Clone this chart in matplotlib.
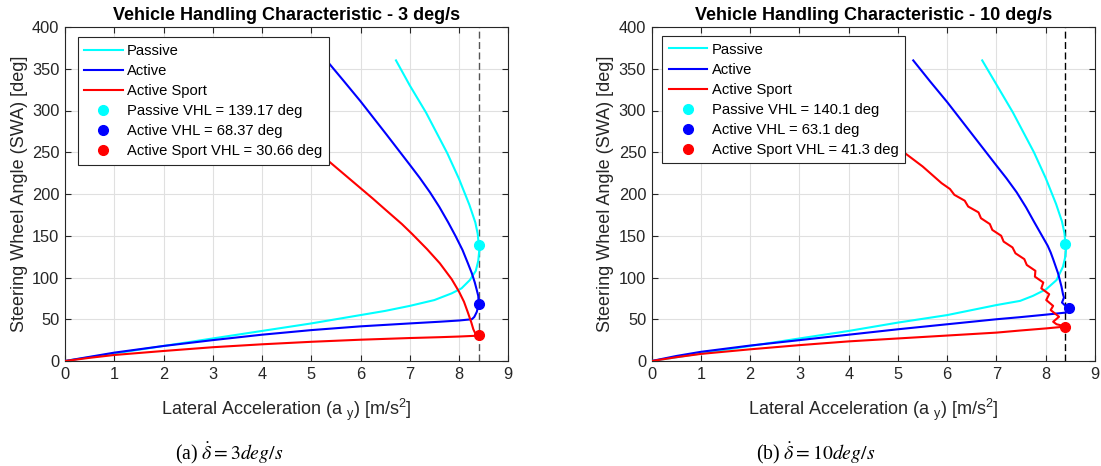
import matplotlib
matplotlib.use('Agg')
import matplotlib.pyplot as plt

plt.rcParams['font.family'] = ['Liberation Sans', 'DejaVu Sans']
plt.rcParams['mathtext.fontset'] = 'custom'
plt.rcParams['mathtext.rm'] = 'Liberation Sans'
plt.rcParams['mathtext.it'] = 'Liberation Sans:italic'

# ---------------- data: 3 deg/s ----------------
p3_x = [0, 0.5, 1, 2, 3, 4, 5, 6, 6.5, 7.0, 7.5, 7.85, 8.05, 8.22, 8.34, 8.39, 8.41, 8.40, 8.38, 8.33, 8.21, 8.0, 7.76, 7.33, 7.0, 6.72]
p3_y = [0, 4.5, 9, 18, 27, 36, 45, 55, 60, 66, 73, 81, 87, 97, 108, 120, 132, 139.17, 152, 166, 187, 218, 249, 297.5, 330, 360]
a3_x = [0, 0.5, 1, 2, 3, 4, 5, 6, 7, 7.6, 8.0, 8.26, 8.31, 8.36, 8.40, 8.39, 8.36, 8.32, 8.26, 8.18, 8.07, 7.93, 7.78, 7.6,
        7.41, 7.2, 7.0, 6.53, 6.0, 5.65, 5.31]
a3_y = [0, 5, 10, 18, 25, 31.5, 37, 41.5, 45, 47, 48.5, 50, 52.8, 58.8, 68.37, 78, 85, 94, 105, 117, 133, 149.5, 166, 184.5,
        202, 219.5, 235, 271, 311, 336, 360]
s3_x = [0, 0.5, 1, 2, 3, 4, 5, 6, 7, 7.6, 8.0, 8.3, 8.41, 8.33, 8.29, 8.25, 8.18, 8.1, 8.0, 7.85, 7.61, 7.35, 7.05,
        6.84, 6.5, 6.25, 6.0, 5.6, 5.18, 4.9]
s3_y = [0, 3.8, 7.2, 12, 16.5, 20, 23, 25.5, 27.5, 28.5, 29.3, 30.1, 30.66, 33, 38, 46, 58, 71, 83, 98, 117, 134, 152,
        164, 181.5, 194.5, 207, 227, 248, 261]

# ---------------- data: 10 deg/s ----------------
p10_x = [0, 0.5, 1, 2, 3, 4, 5, 6, 6.5, 7.0, 7.48, 7.74, 8.01, 8.22, 8.35, 8.39, 8.41, 8.40, 8.38, 8.33, 8.21, 8.0, 7.76, 7.33, 7.0, 6.71]
p10_y = [0, 4.5, 9, 18, 27, 36, 46, 55, 61, 67, 72, 78, 86, 97, 113, 123, 132, 140.1, 153, 167, 188, 219, 250, 298, 331, 360]
a10_x = [0, 0.5, 1, 2, 3, 4, 5, 6, 7, 7.48, 8.0, 8.41, 8.47, 8.40, 8.33, 8.37, 8.35, 8.32, 8.25, 8.15, 8.1, 8.04, 7.9,
         7.76, 7.6, 7.41, 7.2, 7.0, 6.5, 6.0, 5.65, 5.31]
a10_y = [0, 6, 11, 18.5, 25, 31.5, 38, 44, 50, 52.5, 55.5, 58, 62, 66, 70, 76, 80, 89, 105, 122, 130, 138, 152.5,
         167, 184, 202, 219, 234, 272, 310, 335, 360]
s10_x = [0, 0.5, 1, 2, 3, 4, 5, 6, 7, 7.48, 8.0, 8.41, 8.22, 8.15, 8.27, 8.10, 8.15, 8.01, 8.07, 7.91, 7.95,
         7.78, 7.79, 7.615, 7.565, 7.385, 7.325, 7.145, 7.095, 6.915, 6.865, 6.685, 6.635, 6.425, 6.355,
         6.145, 6.055, 5.885, 5.5, 4.96, 4.7]
s10_y = [0, 4.5, 8.5, 14, 19, 23.5, 27, 30.5, 34, 36.5, 39, 41.3, 44, 47, 53, 61, 66, 73, 80, 87, 94,
         101, 108, 115, 122, 129, 136, 143, 150, 157, 164, 171, 178, 185, 192, 199, 206, 213, 233, 257, 270]

# VHL markers (x position, value)
vhl3_x = [8.40, 8.40, 8.41]
vhl3 = [139.17, 68.37, 30.66]
vhl10_x = [8.40, 8.48, 8.40]
vhl10 = [140.1, 63.1, 41.3]
ay_limit = 8.4

series_names = ['Passive', 'Active', 'Active Sport']
colors = ['#00FFFF', '#0000FF', '#FF0000']
titles = ['Vehicle Handling Characteristic - 3 deg/s', 'Vehicle Handling Characteristic - 10 deg/s']
captions = [r'(a) $\dot{\delta} = 3deg/s$', r'(b) $\dot{\delta} = 10deg/s$']
vhl_labels = [['Passive VHL = 139.17 deg', 'Active VHL = 68.37 deg', 'Active Sport VHL = 30.66 deg'],
              ['Passive VHL = 140.1 deg', 'Active VHL = 63.1 deg', 'Active Sport VHL = 41.3 deg']]

panels = [
    dict(curves=[(p3_x, p3_y), (a3_x, a3_y), (s3_x, s3_y)], mx=vhl3_x, my=vhl3,
         left=65 / 1101, dash='#555555', leg=(0.0286, 0.969), cap_x=229 / 1101),
    dict(curves=[(p10_x, p10_y), (a10_x, a10_y), (s10_x, s10_y)], mx=vhl10_x, my=vhl10,
         left=651.7 / 1101, dash='black', leg=(0.024, 0.973), cap_x=816 / 1101),
]

fig = plt.figure(figsize=(11.01, 4.66), dpi=100)
axcol = '#262626'
for i, pnl in enumerate(panels):
    ax = fig.add_axes([pnl['left'], 105 / 466, 443.3 / 1101, 334 / 466])
    handles = []
    for (xs, ys), c, n in zip(pnl['curves'], colors, series_names):
        h, = ax.plot(xs, ys, color=c, lw=1.5, label=n, zorder=3, solid_joinstyle='round')
        handles.append(h)
    for mx, my, c, lab in zip(pnl['mx'], pnl['my'], colors, vhl_labels[i]):
        h, = ax.plot([mx], [my], 'o', color=c, ms=7, label=lab, zorder=4, linestyle='none')
        handles.append(h)
    ax.axvline(ay_limit, color=pnl['dash'], lw=1.0, dashes=(5, 2.5), zorder=2.5)
    ax.set_xlim(0, 9)
    ax.set_ylim(0, 400)
    ax.set_xticks(range(0, 10))
    ax.set_yticks(range(0, 401, 50))
    ax.grid(True, color='#e0e0e0', lw=0.8)
    ax.set_axisbelow(True)
    ax.tick_params(direction='in', length=4, width=0.8, top=True, right=True,
                   labelsize=11.8, colors=axcol, pad=4)
    for s in ax.spines.values():
        s.set_color(axcol)
        s.set_linewidth(0.8)
    ax.set_title(titles[i], fontsize=13, fontweight='bold', pad=5, color='black')
    ax.set_xlabel(r'Lateral Acceleration (a $_\mathrm{y}$) [m/s$^\mathrm{2}$]', fontsize=13,
                  color=axcol, labelpad=11)
    ax.set_ylabel('Steering Wheel Angle (SWA) [deg]', fontsize=13, color=axcol, labelpad=3)
    leg = ax.legend(handles=handles, loc='upper left', bbox_to_anchor=pnl['leg'], borderaxespad=0,
                    fontsize=10.6, frameon=True, fancybox=False, edgecolor=axcol, framealpha=1,
                    handlelength=2.6, handletextpad=0.3, labelspacing=0.41, borderpad=0.45)
    leg.get_frame().set_linewidth(0.8)
    fig.text(pnl['cap_x'], 13 / 466, captions[i], ha='center', va='center', fontsize=14.2,
             family='Liberation Serif', math_fontfamily='stix', color='black')

fig.savefig('out.png', dpi=100)
